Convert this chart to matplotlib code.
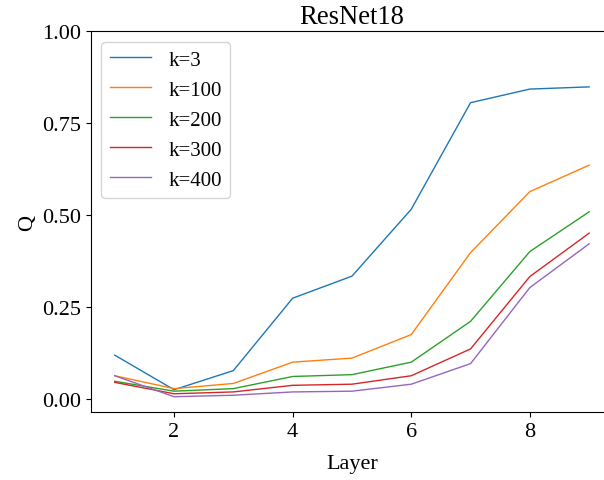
import matplotlib
matplotlib.use("Agg")
import matplotlib.pyplot as plt

plt.rcParams['font.family'] = ['Liberation Serif', 'DejaVu Serif']
plt.rcParams['font.size'] = 16
plt.rcParams['mathtext.fontset'] = 'stix'

layers = [1, 2, 3, 4, 5, 6, 7, 8, 9]
labels = ["k=3", "k=100", "k=200", "k=300", "k=400"]
q_k3 = [0.119, 0.025, 0.077, 0.274, 0.334, 0.516, 0.806, 0.843, 0.849]
q_k100 = [0.063, 0.028, 0.042, 0.100, 0.111, 0.175, 0.398, 0.564, 0.636]
q_k200 = [0.048, 0.021, 0.028, 0.061, 0.066, 0.100, 0.211, 0.401, 0.509]
q_k300 = [0.045, 0.014, 0.019, 0.037, 0.040, 0.063, 0.136, 0.333, 0.451]
q_k400 = [0.063, 0.006, 0.010, 0.019, 0.021, 0.040, 0.096, 0.303, 0.422]
series = [q_k3, q_k100, q_k200, q_k300, q_k400]

fig = plt.figure(figsize=(6.04, 4.81), dpi=100)
ax = fig.add_axes([0.1507, 0.1407, 0.864, 0.792])
for vals, lab in zip(series, labels):
    ax.plot(layers, vals, label=lab, linewidth=1.0)

ax.set_xlim(0.6, 9.4)
ax.set_ylim(-0.0365, 1.0)
ax.set_xticks([2, 4, 6, 8])
ax.set_yticks([0.0, 0.25, 0.5, 0.75, 1.0])
ax.set_yticklabels(["0.00", "0.25", "0.50", "0.75", "1.00"])
ax.set_xlabel("Layer", labelpad=9)
ax.set_ylabel("Q")
ax.set_title("ResNet18")
ax.legend(loc="upper left", fontsize=15)

fig.savefig("out.png", dpi=100)
